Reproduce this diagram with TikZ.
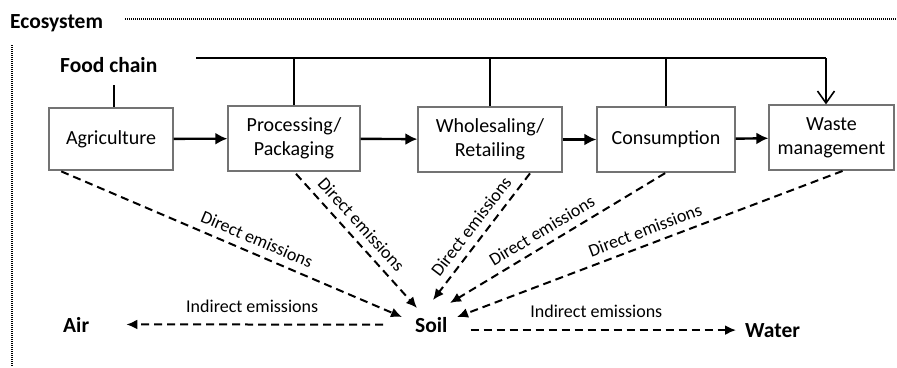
\documentclass[tikz,border=0pt]{standalone}
\usepackage{fontspec}
\setmainfont{Carlito}
\usetikzlibrary{arrows.meta,positioning}

\begin{document}
\begin{tikzpicture}[x=1pt,y=-1pt]
      \tikzstyle{stage} = [rectangle, draw=black!55, line width=1.2pt, minimum height=65pt, align=center, inner sep=2pt, font=\fontsize{20}{24}\selectfont]
      \tikzstyle{title} = [anchor=base west, inner sep=0pt, font=\fontsize{21.5}{24}\selectfont\bfseries]
      \tikzstyle{flow} = [line width=2.4pt, -{Latex[length=12pt,width=12pt]}]
      \tikzstyle{bus} = [line width=1.6pt]
      \tikzstyle{emit} = [line width=2pt, dash pattern=on 8pt off 5pt, -{Latex[length=11pt,width=10pt]}]
      \tikzstyle{lbl} = [sloped, above=4pt, font=\fontsize{18}{20}\selectfont]
      \tikzstyle{ilbl} = [above=8pt, font=\fontsize{18}{20}\selectfont]
      \tikzstyle{frame} = [line width=1.5pt, dash pattern=on 1pt off 1pt]
      \useasboundingbox (0,0) rectangle (897,367);
      % ecosystem frame
      \node[title] (eco) at (10,28) {Ecosystem};
      \coordinate (ecoR) at (897,19);
      \coordinate (ecoT) at (12,45);
      \coordinate (ecoB) at (12,367);
      \draw[frame] ([xshift=22pt]eco.east |- ecoR) -- (ecoR);
      \draw[frame] (ecoT) -- (ecoB);
      % food chain
      \node[title] (fc) at (60,72) {Food chain};
      \node[stage, minimum width=124pt, minimum height=62pt] (agri) at (111,139) {Agriculture};
      \node[stage, minimum width=132pt] (proc) at (294,138.5) {Processing/\\Packaging};
      \node[stage, minimum width=144pt] (whole) at (490,139.5) {Wholesaling/\\Retailing};
      \node[stage, minimum width=138pt] (cons) at (666,139.5) {Consumption};
      \node[stage, minimum width=125pt] (waste) at (831.5,137.5) {Waste\\management};
      \draw[bus, shorten <=13pt] ([xshift=5pt]fc.south) -- ([xshift=5pt]fc.south |- agri.north);
      \draw[flow] (agri) -- (proc);
      \draw[flow] (proc) -- (whole);
      \draw[flow] (whole) -- (cons);
      \draw[flow] (cons) -- (waste);
      % waste line on top
      \coordinate (busL) at (196,58);
      \coordinate (busR) at (826,58);
      \draw[bus] (busL) -- (busR);
      \foreach \n in {proc,whole,cons}
        \draw[bus] (\n.north) -- (\n.north |- busL);
      \draw[bus, -{Straight Barb[length=12pt,width=17pt]}] (busR) -- (busR |- waste.north);
      % environment
      \node[title] (air) at (63,332) {Air};
      \node[title] (soil) at (415,332) {Soil};
      \node[title] (water) at (745,337) {Water};
      \coordinate (e1) at (402,317);
      \coordinate (e2) at (417,308);
      \coordinate (e3) at (433,300);
      \coordinate (e4) at (450,303);
      \coordinate (e5) at (457,317);
      \draw[emit, shorten <=2pt] ([xshift=11pt]agri.south west) -- node[lbl, pos=0.56] {Direct emissions} (e1);
      \draw[emit, shorten <=3pt] (proc.south) -- node[lbl, pos=0.46] {Direct emissions} (e2);
      \draw[emit, shorten <=1pt] ([xshift=-32pt]whole.south east) -- node[lbl, pos=0.49] {Direct emissions} (e3);
      \draw[emit, shorten <=1pt] (cons.south) -- node[lbl, pos=0.54] {Direct emissions} (e4);
      \draw[emit, shorten <=1pt] ([xshift=12pt]waste.south) -- node[lbl, pos=0.5] {Direct emissions} (e5);
      \draw[emit, shorten <=32pt, shorten >=37pt] (soil.west) -- node[ilbl] {Indirect emissions} (air.east);
      \draw[emit, shorten <=23pt, shorten >=9pt] (soil.east |- water.west) -- node[ilbl] {Indirect emissions} (water.west);
    \end{tikzpicture}
\end{document}
